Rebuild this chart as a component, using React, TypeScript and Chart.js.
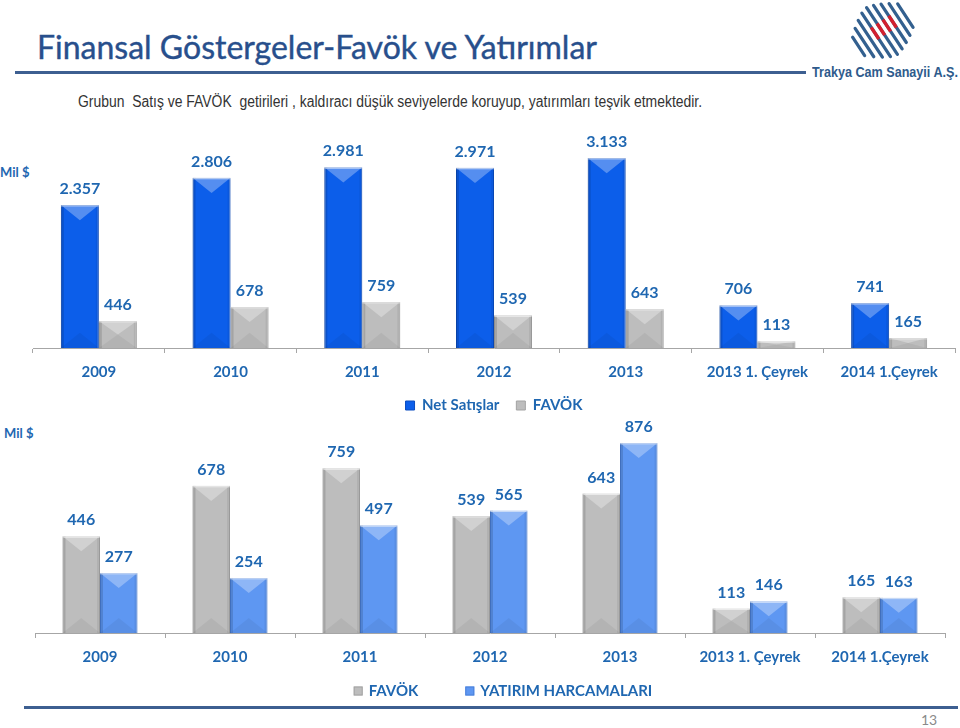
import React, { useEffect, useRef } from 'react';
import { Chart, registerables } from 'chart.js';

Chart.register(...registerables);

// ---- data ----
const categories = ['2009', '2010', '2011', '2012', '2013', '2013 1. Çeyrek', '2014 1.Çeyrek'];
const netSatislar = [2357, 2806, 2981, 2971, 3133, 706, 741];
const favok = [446, 678, 759, 539, 643, 113, 165];
const yatirim = [277, 254, 497, 565, 876, 146, 163];

const LABEL_BLUE = '#1f67b1';
const TOP_BLUE = '#0c5eea';
const BOTTOM_BLUE = '#5e97f2';
const GRAY = '#bdbdbd';
const AXIS_GRAY = '#a6a6a6';
const FONT = 'Lato, "Open Sans", sans-serif';

const fmt = (v: number) =>
  v >= 1000 ? `${Math.floor(v / 1000)}.${String(v % 1000).padStart(3, '0')}` : String(v);

const barStyle = {
  id: 'barStyle',
  afterDatasetsDraw(chart: any) {
    const ctx = chart.ctx;
    chart.data.datasets.forEach((_ds: any, di: number) => {
      const meta = chart.getDatasetMeta(di);
      meta.data.forEach((el: any) => {
        const { x, y, base, width } = el.getProps(['x', 'y', 'base', 'width'], true);
        const l = x - width / 2;
        const r = x + width / 2;
        const h = base - y;
        if (h <= 0) return;
        ctx.save();
        ctx.fillStyle = 'rgba(0,0,0,0.13)';
        ctx.fillRect(l, y, 3, h);
        ctx.fillStyle = 'rgba(0,0,0,0.06)';
        ctx.fillRect(r - 3, y, 3, h);
        const d = Math.min(width * 0.4, h / 2);
        ctx.beginPath();
        ctx.moveTo(l, y);
        ctx.lineTo(r, y);
        ctx.lineTo(x, y + d);
        ctx.closePath();
        ctx.fillStyle = 'rgba(255,255,255,0.3)';
        ctx.fill();
        ctx.beginPath();
        ctx.moveTo(l, base);
        ctx.lineTo(r, base);
        ctx.lineTo(x, base - d);
        ctx.closePath();
        ctx.fillStyle = 'rgba(0,0,0,0.05)';
        ctx.fill();
        ctx.fillStyle = 'rgba(255,255,255,0.45)';
        ctx.fillRect(l, y, width, 1.5);
        ctx.restore();
      });
    });
  },
};

const valueLabels = {
  id: 'valueLabels',
  afterDatasetsDraw(chart: any) {
    const ctx = chart.ctx;
    ctx.save();
    ctx.font = `bold 16px ${FONT}`;
    ctx.fillStyle = LABEL_BLUE;
    ctx.textAlign = 'center';
    ctx.textBaseline = 'middle';
    chart.data.datasets.forEach((ds: any, di: number) => {
      const meta = chart.getDatasetMeta(di);
      meta.data.forEach((el: any, i: number) => {
        const { x, y } = el.getProps(['x', 'y'], true);
        ctx.fillText(fmt(ds.data[i]), x, y - 16);
      });
    });
    ctx.restore();
  },
};

// legend with wide spacing between items, drawn below the x axis
function makeSpacedLegend(centerX: number, gap: number, offsetY: number) {
  return {
    id: 'spacedLegend',
    afterDraw(chart: any) {
      const ctx = chart.ctx;
      ctx.save();
      ctx.font = `bold 15px ${FONT}`;
      ctx.textBaseline = 'middle';
      ctx.textAlign = 'left';
      const box = 9;
      const gapText = 6;
      const items = chart.data.datasets.map((ds: any) => ({
        text: ds.label as string,
        color: ds.backgroundColor as string,
        border: ds.borderColor as string,
      }));
      const widths = items.map((it: any) => box + gapText + ctx.measureText(it.text).width);
      const total = widths.reduce((a: number, b: number) => a + b, 0) + gap * (items.length - 1);
      let x = centerX - total / 2;
      const y = chart.chartArea.bottom + offsetY;
      items.forEach((it: any, i: number) => {
        ctx.fillStyle = it.color;
        ctx.fillRect(x, y - box / 2, box, box);
        ctx.strokeStyle = it.border;
        ctx.lineWidth = 1;
        ctx.strokeRect(x + 0.5, y - box / 2 + 0.5, box - 1, box - 1);
        ctx.fillStyle = LABEL_BLUE;
        ctx.fillText(it.text, x + box + gapText, y);
        x += widths[i] + gap;
      });
      ctx.restore();
    },
  };
}

function makeOptions(opts: {
  padLeft: number;
  padRight: number;
  padTop: number;
  padBottom: number;
  yMax: number;
  axisHeight: number;
  legend: boolean;
}) {
  const hgt = opts.axisHeight;
  return {
    responsive: false,
    animation: false as const,
    layout: {
      padding: { left: opts.padLeft, right: opts.padRight, top: opts.padTop, bottom: opts.padBottom },
    },
    scales: {
      x: {
        offset: true,
        afterFit: (scale: any) => {
          scale.height = hgt;
        },
        grid: {
          display: true,
          drawOnChartArea: false,
          drawTicks: true,
          tickLength: 5,
          color: AXIS_GRAY,
          offset: true,
        },
        border: { display: true, color: AXIS_GRAY, width: 1 },
        ticks: {
          color: LABEL_BLUE,
          font: { family: FONT, size: 15, weight: 'bold' },
          padding: 10,
          maxRotation: 0,
          autoSkip: false,
        },
      },
      y: { display: false, min: 0, max: opts.yMax, beginAtZero: true },
    },
    plugins: {
      legend: {
        display: opts.legend,
        position: 'bottom' as const,
        fullSize: false,
        labels: {
          boxWidth: 9,
          boxHeight: 9,
          padding: 17,
          color: LABEL_BLUE,
          font: { family: FONT, size: 15, weight: 'bold' },
        },
      },
      tooltip: { enabled: false },
    },
  };
}

function TopChart() {
  const ref = useRef<HTMLCanvasElement>(null);
  useEffect(() => {
    if (!ref.current) return;
    const chart = new Chart(ref.current, {
      type: 'bar',
      data: {
        labels: categories,
        datasets: [
          {
            label: 'Net Satışlar',
            data: netSatislar,
            backgroundColor: TOP_BLUE,
            borderColor: '#0a4cc0',
            borderWidth: 1,
            categoryPercentage: 0.577,
            barPercentage: 1,
          },
          {
            label: 'FAVÖK',
            data: favok,
            backgroundColor: GRAY,
            borderColor: '#a3a3a3',
            borderWidth: 1,
            categoryPercentage: 0.577,
            barPercentage: 1,
          },
        ],
      },
      options: makeOptions({
        padLeft: 39,
        padRight: 5,
        padTop: 15,
        padBottom: 0,
        yMax: 3430,
        axisHeight: 33,
        legend: true,
      }) as any,
      plugins: [barStyle, valueLabels],
    });
    return () => chart.destroy();
  }, []);
  return (
    <canvas
      ref={ref}
      width={966}
      height={298}
      style={{ position: 'absolute', left: -6, top: 125, width: 966, height: 298 }}
    />
  );
}

function BottomChart() {
  const ref = useRef<HTMLCanvasElement>(null);
  useEffect(() => {
    if (!ref.current) return;
    const chart = new Chart(ref.current, {
      type: 'bar',
      data: {
        labels: categories,
        datasets: [
          {
            label: 'FAVÖK',
            data: favok,
            backgroundColor: GRAY,
            borderColor: '#a3a3a3',
            borderWidth: 1,
            categoryPercentage: 0.577,
            barPercentage: 1,
          },
          {
            label: 'YATIRIM HARCAMALARI',
            data: yatirim,
            backgroundColor: BOTTOM_BLUE,
            borderColor: '#4a80da',
            borderWidth: 1,
            categoryPercentage: 0.577,
            barPercentage: 1,
          },
        ],
      },
      options: makeOptions({
        padLeft: 35,
        padRight: 15,
        padTop: 10,
        padBottom: 39,
        yMax: 1000,
        axisHeight: 34,
        legend: false,
      }) as any,
      plugins: [barStyle, valueLabels, makeSpacedLegend(503, 47, 58)],
    });
    return () => chart.destroy();
  }, []);
  return (
    <canvas
      ref={ref}
      width={960}
      height={300}
      style={{ position: 'absolute', left: 0, top: 406, width: 960, height: 300 }}
    />
  );
}

function Logo() {
  const dir = [0.55, 0.835];
  const perp = [0.835, -0.55];
  const cx = 36;
  const cy = 30;
  const lens = [22, 34, 44, 52, 56, 52, 46, 38, 28];
  const seg = (o: number, shift: number, len: number) => {
    const mx = cx + perp[0] * o + dir[0] * shift;
    const my = cy + perp[1] * o + dir[1] * shift;
    return {
      x1: mx - (dir[0] * len) / 2,
      y1: my - (dir[1] * len) / 2,
      x2: mx + (dir[0] * len) / 2,
      y2: my + (dir[1] * len) / 2,
    };
  };
  const lines = lens.map((len, i) => seg((i - 4) * 7, 0, len));
  const reds = [3, 4, 5, 6].map((i) => seg((i - 4) * 7, -2, 14));
  return (
    <svg width={74} height={62} style={{ position: 'absolute', left: 846, top: 1 }}>
      {lines.map((l, i) => (
        <line key={i} x1={l.x1} y1={l.y1} x2={l.x2} y2={l.y2} stroke="#33608f" strokeWidth={3.2} strokeLinecap="round" />
      ))}
      {reds.map((l, i) => (
        <line key={'r' + i} x1={l.x1} y1={l.y1} x2={l.x2} y2={l.y2} stroke="#d3202f" strokeWidth={3.4} />
      ))}
    </svg>
  );
}

export default function App() {
  return (
    <div
      style={{
        position: 'absolute',
        left: 0,
        top: 0,
        width: 960,
        height: 728,
        overflow: 'hidden',
        background: '#ffffff',
      }}
    >
      <div
        style={{
          position: 'absolute',
          left: 37,
          top: 28,
          fontFamily: FONT,
          fontSize: 32,
          lineHeight: '38px',
          color: '#284f8c',
          whiteSpace: 'nowrap',
          WebkitTextStroke: '0.4px #284f8c',
        }}
      >
        Finansal Göstergeler-Favök ve Yatırımlar
      </div>
      <div style={{ position: 'absolute', left: 15, top: 71, width: 791, height: 3, background: '#3d5f91' }} />
      <Logo />
      <div
        style={{
          position: 'absolute',
          left: 812,
          top: 63,
          fontFamily: '"Liberation Sans", Arial, sans-serif',
          fontWeight: 'bold',
          fontSize: 15,
          lineHeight: '18px',
          color: '#2e5b8c',
          whiteSpace: 'nowrap',
          transform: 'scaleX(0.84)',
          transformOrigin: 'left center',
        }}
      >
        Trakya Cam Sanayii A.Ş.
      </div>
      <div
        style={{
          position: 'absolute',
          left: 78,
          top: 92,
          fontFamily: '"Liberation Sans", Arial, sans-serif',
          fontSize: 16,
          lineHeight: '19px',
          color: '#333333',
          whiteSpace: 'pre',
          transform: 'scaleX(0.87)',
          transformOrigin: 'left center',
        }}
      >
        {'Grubun  Satış ve FAVÖK  getirileri , kaldıracı düşük seviyelerde koruyup, yatırımları teşvik etmektedir.'}
      </div>
      <div
        style={{
          position: 'absolute',
          left: 0,
          top: 164,
          fontFamily: FONT,
          fontWeight: 'bold',
          fontSize: 13,
          lineHeight: '16px',
          color: LABEL_BLUE,
          whiteSpace: 'nowrap',
        }}
      >
        Mil $
      </div>
      <div
        style={{
          position: 'absolute',
          left: 4,
          top: 425,
          fontFamily: FONT,
          fontWeight: 'bold',
          fontSize: 13,
          lineHeight: '16px',
          color: LABEL_BLUE,
          whiteSpace: 'nowrap',
        }}
      >
        Mil $
      </div>
      <TopChart />
      <BottomChart />
      <div style={{ position: 'absolute', left: 24, top: 706, width: 934, height: 3, background: '#3d5f91' }} />
      <div
        style={{
          position: 'absolute',
          left: 921,
          top: 712,
          fontFamily: FONT,
          fontSize: 14,
          lineHeight: '16px',
          color: '#8a8a8a',
        }}
      >
        13
      </div>
    </div>
  );
}
